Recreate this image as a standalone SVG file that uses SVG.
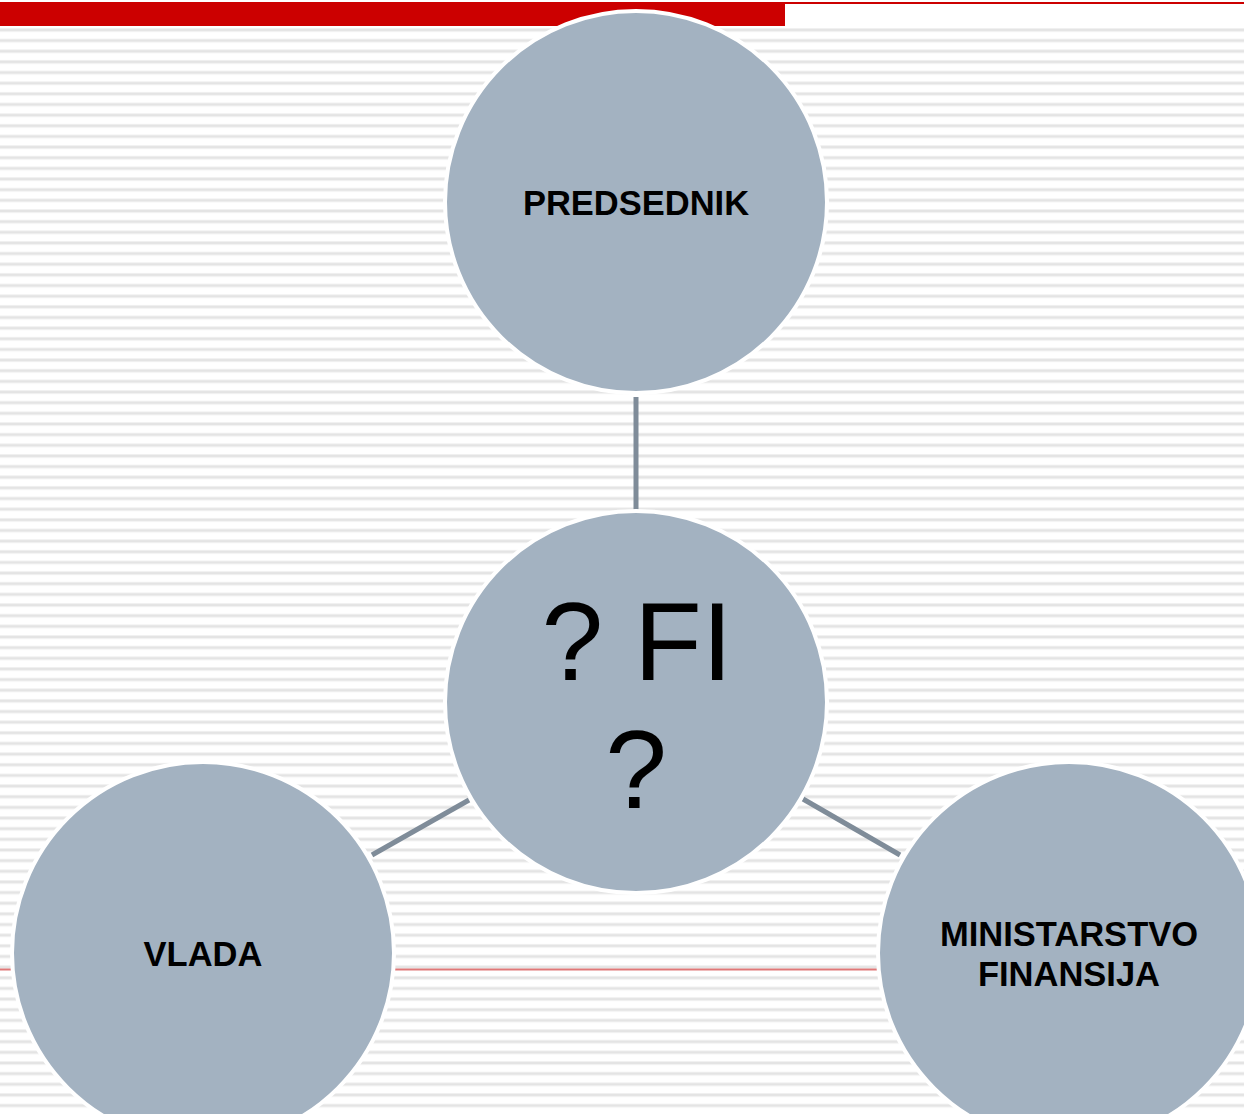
<svg xmlns="http://www.w3.org/2000/svg" width="1244" height="1114" viewBox="0 0 1244 1114">
  <defs>
    <pattern id="stripes" x="0" y="6.7" width="40" height="10.65" patternUnits="userSpaceOnUse">
      <rect x="0" y="0" width="40" height="10.65" fill="#ffffff"/>
      <rect x="0" y="0" width="40" height="1" fill="#f0f0f0"/>
      <rect x="0" y="1" width="40" height="2" fill="#e4e4e4"/>
      <rect x="0" y="3" width="40" height="1" fill="#f0f0f0"/>
    </pattern>
    <style>
      .node { fill: #a3b2c1; stroke: #ffffff; stroke-width: 4; }
      .conn { stroke: #7f8c99; stroke-width: 5; fill: none; }
      .lbl { font-family: "Liberation Sans", Arial, sans-serif; font-weight: bold; font-size: 34.5px; fill: #000000; text-anchor: middle; }
      .big { font-family: "Liberation Sans", Arial, sans-serif; font-size: 111px; fill: #000000; text-anchor: middle; }
    </style>
  </defs>
  <rect width="1244" height="1114" fill="#ffffff"/>
  <rect x="0" y="26" width="1244" height="1088" fill="url(#stripes)"/>
  <rect x="0" y="2" width="785" height="24" fill="#cc0000"/>
  <rect x="785" y="2" width="459" height="2" fill="#cc0000"/>
  <rect x="0" y="968.5" width="1244" height="2" fill="#e07878"/>

  <g id="connectors">
    <line class="conn" x1="636" y1="397" x2="636" y2="511"/>
    <line class="conn" x1="372" y1="855" x2="469" y2="800"/>
    <line class="conn" x1="803" y1="799" x2="900" y2="855"/>
  </g>

  <g id="node-predsednik">
    <circle class="node" cx="636" cy="202" r="191"/>
    <text class="lbl" x="636" y="215">PREDSEDNIK</text>
  </g>
  <g id="node-fi">
    <circle class="node" cx="636" cy="702" r="191"/>
    <text class="big" x="637" y="680">? FI</text>
    <text class="big" x="636" y="808">?</text>
  </g>
  <g id="node-vlada">
    <circle class="node" cx="203" cy="953" r="191"/>
    <text class="lbl" x="203" y="966">VLADA</text>
  </g>
  <g id="node-ministarstvo">
    <circle class="node" cx="1069" cy="953" r="191"/>
    <text class="lbl" x="1069" y="946">MINISTARSTVO</text>
    <text class="lbl" x="1069" y="986">FINANSIJA</text>
  </g>
</svg>
